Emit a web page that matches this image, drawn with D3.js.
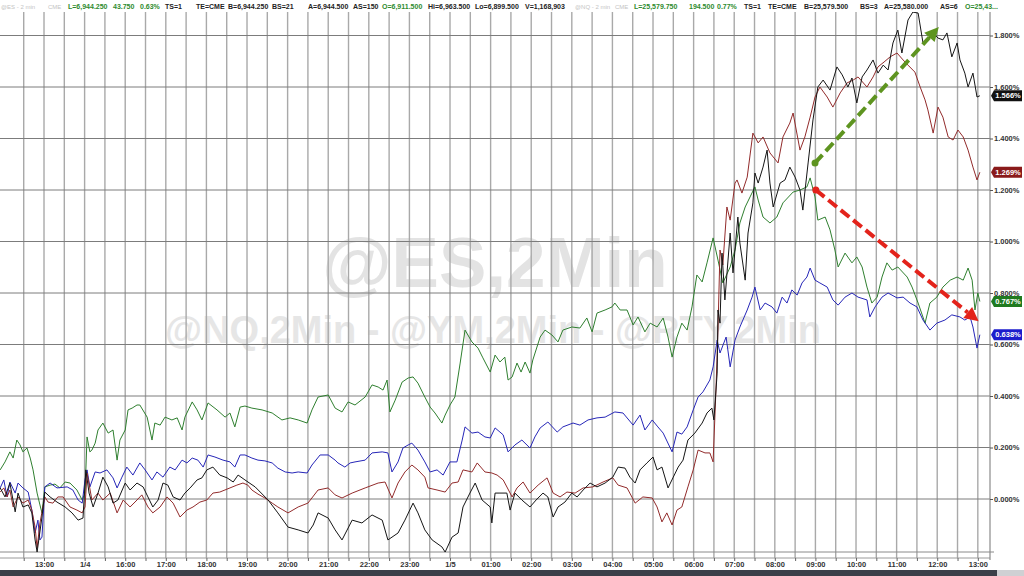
<!DOCTYPE html>
<html>
<head>
<meta charset="utf-8">
<script src="https://cdn.jsdelivr.net/npm/d3@7"></script>
<style>
  body { margin: 0; background: #ffffff; }
  svg { display: block; font-family: "Liberation Sans", Arial, sans-serif; }
</style>
</head>
<body>
<svg id="chart"></svg>
<script>
// hour labels, one per hour; t = 0 is the first 13:00 label
let hourLabels = ['13:00', '1/4', '16:00', '17:00', '18:00', '19:00', '20:00', '21:00',
  '22:00', '23:00', '1/5', '01:00', '02:00', '03:00', '04:00', '05:00', '06:00',
  '07:00', '08:00', '09:00', '10:00', '11:00', '12:00', '13:00'];

// right axis ticks (percent)
let yTicks = [0, 0.2, 0.4, 0.6, 0.8, 1.0, 1.2, 1.4, 1.6, 1.8];

// series are [hours since first 13:00 label, % change]
let nq = [[-1.08,0.113],[-0.96,0.144],[-0.84,0.183],[-0.76,0.159],[-0.67,0.229],[-0.59,0.210],[-0.52,0.183],[-0.42,0.198],[-0.34,0.159],[-0.27,0.113],[-0.17,0.023],[-0.10,-0.023],[-0.05,-0.054],[0.02,0.047],[0.15,0.054],[0.27,0.058],[0.39,0.043],[0.52,0.066],[0.64,0.062],[0.81,0.035],[0.94,-0.004],[1.01,0.023],[1.06,0.241],[1.13,0.183],[1.18,0.190],[1.26,0.217],[1.33,0.268],[1.45,0.295],[1.58,0.256],[1.70,0.268],[1.80,0.151],[1.87,0.229],[2.00,0.268],[2.07,0.346],[2.17,0.353],[2.29,0.365],[2.36,0.365],[2.54,0.318],[2.66,0.229],[2.73,0.295],[2.86,0.287],[2.98,0.318],[3.15,0.307],[3.28,0.315],[3.40,0.268],[3.47,0.318],[3.65,0.377],[3.77,0.346],[3.89,0.307],[4.04,0.373],[4.26,0.346],[4.46,0.318],[4.58,0.334],[4.70,0.280],[4.83,0.357],[4.95,0.361],[5.12,0.353],[5.37,0.346],[5.62,0.334],[5.86,0.307],[6.06,0.315],[6.26,0.307],[6.48,0.295],[6.60,0.346],[6.75,0.396],[7.00,0.404],[7.17,0.353],[7.34,0.338],[7.49,0.377],[7.66,0.365],[7.91,0.396],[8.08,0.443],[8.23,0.435],[8.35,0.423],[8.45,0.462],[8.52,0.338],[8.65,0.384],[8.82,0.454],[8.97,0.470],[9.09,0.474],[9.21,0.450],[9.38,0.396],[9.51,0.357],[9.63,0.334],[9.80,0.295],[9.88,0.326],[10.00,0.365],[10.12,0.396],[10.25,0.528],[10.37,0.656],[10.54,0.610],[10.69,0.586],[10.81,0.548],[10.99,0.493],[11.11,0.559],[11.23,0.532],[11.35,0.551],[11.43,0.462],[11.53,0.474],[11.65,0.528],[11.75,0.493],[11.85,0.532],[11.97,0.489],[12.04,0.540],[12.22,0.629],[12.34,0.656],[12.51,0.637],[12.66,0.610],[12.78,0.656],[13.00,0.668],[13.20,0.664],[13.37,0.703],[13.50,0.649],[13.62,0.722],[13.82,0.734],[13.99,0.746],[14.06,0.761],[14.19,0.734],[14.36,0.734],[14.51,0.676],[14.63,0.707],[14.80,0.649],[14.93,0.683],[15.10,0.668],[15.25,0.703],[15.37,0.629],[15.47,0.551],[15.59,0.629],[15.71,0.683],[15.84,0.656],[15.96,0.746],[16.08,0.870],[16.21,0.843],[16.33,0.917],[16.48,1.014],[16.60,0.928],[16.72,0.839],[16.90,0.901],[17.02,0.967],[17.14,1.072],[17.27,1.134],[17.39,1.173],[17.51,1.212],[17.59,1.161],[17.71,1.095],[17.88,1.072],[18.05,1.095],[18.20,1.150],[18.45,1.192],[18.62,1.200],[18.79,1.212],[18.87,1.247],[18.99,1.173],[19.06,1.083],[19.24,1.095],[19.36,1.045],[19.48,0.967],[19.56,0.901],[19.73,0.955],[19.90,0.917],[20.02,0.940],[20.15,0.901],[20.27,0.823],[20.39,0.761],[20.52,0.784],[20.64,0.862],[20.76,0.917],[20.89,0.889],[21.03,0.901],[21.26,0.862],[21.38,0.823],[21.53,0.761],[21.70,0.683],[21.82,0.761],[21.99,0.784],[22.14,0.823],[22.32,0.850],[22.49,0.862],[22.64,0.850],[22.76,0.897],[22.86,0.850],[22.93,0.734],[23.00,0.800],[23.05,0.767]];

let es = [[-1.08,0.043],[-0.99,0.074],[-0.91,0.008],[-0.84,0.066],[-0.71,0.023],[-0.64,0.062],[-0.52,0.043],[-0.39,0.027],[-0.30,-0.043],[-0.22,-0.132],[-0.15,-0.082],[-0.10,-0.159],[-0.05,-0.148],[0.02,0.047],[0.15,0.062],[0.32,0.043],[0.57,0.047],[0.71,0.035],[0.84,-0.004],[0.94,-0.016],[1.01,0.074],[1.06,0.113],[1.13,0.047],[1.26,0.105],[1.38,0.101],[1.55,0.113],[1.70,0.082],[1.80,0.043],[1.92,0.085],[2.04,0.124],[2.19,0.093],[2.36,0.140],[2.49,0.113],[2.66,0.074],[2.78,0.105],[2.93,0.085],[3.10,0.124],[3.23,0.113],[3.40,0.151],[3.52,0.140],[3.65,0.159],[3.79,0.151],[3.92,0.124],[4.04,0.171],[4.21,0.163],[4.41,0.151],[4.58,0.144],[4.70,0.124],[4.83,0.171],[4.95,0.171],[5.12,0.159],[5.27,0.151],[5.44,0.148],[5.62,0.140],[5.76,0.120],[5.94,0.105],[6.11,0.101],[6.26,0.105],[6.48,0.101],[6.60,0.132],[6.80,0.171],[7.00,0.171],[7.17,0.151],[7.24,0.140],[7.41,0.124],[7.54,0.140],[7.66,0.144],[7.91,0.151],[8.08,0.179],[8.33,0.183],[8.47,0.179],[8.57,0.105],[8.72,0.144],[8.84,0.198],[8.97,0.210],[9.06,0.217],[9.21,0.190],[9.38,0.144],[9.51,0.105],[9.68,0.113],[9.83,0.093],[10.00,0.144],[10.17,0.144],[10.30,0.229],[10.37,0.280],[10.54,0.256],[10.69,0.260],[10.86,0.241],[10.99,0.237],[11.11,0.276],[11.23,0.260],[11.31,0.249],[11.43,0.183],[11.60,0.210],[11.77,0.229],[11.97,0.198],[12.09,0.241],[12.22,0.276],[12.41,0.299],[12.64,0.260],[12.78,0.280],[13.03,0.295],[13.20,0.287],[13.40,0.307],[13.62,0.315],[13.82,0.318],[14.06,0.338],[14.26,0.334],[14.51,0.287],[14.68,0.326],[14.80,0.268],[14.98,0.307],[15.12,0.280],[15.25,0.256],[15.47,0.183],[15.59,0.260],[15.71,0.252],[15.84,0.280],[15.99,0.346],[16.11,0.396],[16.23,0.416],[16.40,0.462],[16.48,0.513],[16.58,0.617],[16.65,0.567],[16.80,0.629],[16.90,0.513],[17.02,0.617],[17.14,0.668],[17.32,0.734],[17.44,0.784],[17.51,0.823],[17.64,0.734],[17.76,0.761],[17.93,0.746],[18.05,0.722],[18.18,0.784],[18.30,0.761],[18.42,0.812],[18.55,0.792],[18.67,0.839],[18.79,0.862],[18.87,0.897],[18.99,0.850],[19.11,0.839],[19.29,0.823],[19.43,0.773],[19.56,0.753],[19.73,0.784],[19.90,0.800],[20.05,0.784],[20.27,0.773],[20.34,0.707],[20.47,0.746],[20.64,0.784],[20.79,0.800],[21.01,0.781],[21.16,0.784],[21.33,0.761],[21.50,0.746],[21.65,0.695],[21.82,0.656],[21.99,0.683],[22.19,0.695],[22.36,0.715],[22.56,0.707],[22.68,0.695],[22.81,0.707],[22.88,0.668],[22.98,0.586],[23.05,0.638]];

let ym = [[-1.08,0.027],[-0.99,0.043],[-0.91,0.008],[-0.84,0.035],[-0.76,-0.031],[-0.64,0.008],[-0.52,-0.016],[-0.39,-0.004],[-0.30,-0.043],[-0.22,-0.109],[-0.17,-0.190],[-0.10,-0.093],[0.02,0.008],[0.10,-0.012],[0.22,-0.016],[0.34,0.008],[0.47,0.008],[0.64,-0.031],[0.81,-0.043],[0.94,-0.054],[1.01,-0.031],[1.06,0.101],[1.18,-0.004],[1.33,0.023],[1.45,-0.004],[1.63,0.023],[1.80,-0.054],[1.95,-0.004],[2.12,-0.031],[2.29,-0.004],[2.41,0.016],[2.56,-0.031],[2.68,-0.054],[2.86,-0.031],[3.03,0.008],[3.18,-0.016],[3.35,-0.070],[3.52,-0.043],[3.67,-0.031],[3.84,-0.012],[4.01,-0.004],[4.16,0.023],[4.33,0.027],[4.58,0.043],[4.75,0.054],[4.90,0.062],[5.02,0.054],[5.12,0.035],[5.27,0.019],[5.44,0.004],[5.62,-0.016],[5.76,-0.031],[6.01,-0.054],[6.26,-0.031],[6.50,-0.016],[6.75,0.035],[7.00,0.043],[7.17,0.016],[7.34,0.004],[7.59,0.023],[7.91,0.043],[8.23,0.062],[8.40,0.066],[8.57,0.004],[8.72,0.062],[8.89,0.105],[9.06,0.132],[9.21,0.113],[9.38,0.085],[9.46,0.043],[9.68,0.035],[9.88,0.027],[10.05,0.062],[10.20,0.066],[10.32,0.113],[10.54,0.105],[10.67,0.140],[10.86,0.105],[11.03,0.101],[11.16,0.093],[11.31,0.074],[11.53,0.008],[11.65,0.043],[11.80,0.066],[11.97,0.023],[12.17,0.054],[12.39,0.082],[12.54,0.023],[12.71,0.008],[12.88,0.027],[13.08,0.023],[13.28,0.043],[13.52,0.047],[13.77,0.066],[14.01,0.082],[14.14,0.054],[14.36,0.043],[14.56,-0.016],[14.75,0.008],[14.98,0.004],[15.10,-0.031],[15.22,-0.089],[15.34,-0.054],[15.47,-0.101],[15.59,-0.043],[15.71,-0.031],[15.86,0.047],[15.99,0.113],[16.11,0.190],[16.28,0.179],[16.40,0.179],[16.48,0.144],[16.55,0.423],[16.60,0.656],[16.65,0.967],[16.72,0.909],[16.82,1.134],[16.90,1.083],[17.02,1.227],[17.07,1.239],[17.19,1.188],[17.32,1.250],[17.46,1.421],[17.59,1.383],[17.71,1.406],[17.88,1.344],[18.08,1.305],[18.20,1.406],[18.37,1.460],[18.45,1.499],[18.62,1.355],[18.74,1.406],[18.87,1.483],[18.99,1.561],[19.11,1.600],[19.29,1.561],[19.43,1.522],[19.61,1.577],[19.78,1.616],[19.93,1.627],[20.05,1.639],[20.27,1.600],[20.42,1.639],[20.54,1.678],[20.69,1.697],[20.84,1.717],[21.01,1.732],[21.16,1.705],[21.28,1.685],[21.45,1.658],[21.58,1.600],[21.70,1.550],[21.77,1.511],[21.90,1.421],[22.02,1.522],[22.14,1.483],[22.27,1.406],[22.39,1.394],[22.51,1.433],[22.64,1.406],[22.76,1.355],[22.88,1.289],[22.98,1.239],[23.05,1.269]];

let rty = [[-1.08,0.043],[-0.96,0.008],[-0.84,0.062],[-0.71,-0.050],[-0.64,0.023],[-0.52,-0.031],[-0.39,-0.023],[-0.30,-0.054],[-0.22,-0.159],[-0.17,-0.206],[-0.05,-0.070],[0.02,0.027],[0.15,0.008],[0.32,-0.012],[0.52,-0.031],[0.69,-0.054],[0.84,-0.082],[0.96,-0.074],[1.03,0.113],[1.11,0.023],[1.21,-0.031],[1.33,0.023],[1.45,0.085],[1.58,0.047],[1.70,-0.016],[1.82,-0.004],[2.00,0.062],[2.12,0.035],[2.29,0.062],[2.44,0.047],[2.56,0.008],[2.68,-0.031],[2.81,-0.004],[2.93,0.062],[3.05,0.054],[3.18,0.008],[3.35,-0.004],[3.47,0.023],[3.60,0.043],[3.77,0.074],[3.89,0.082],[4.01,0.113],[4.16,0.124],[4.33,0.093],[4.51,0.082],[4.66,0.066],[4.78,0.093],[4.95,0.074],[5.20,0.047],[5.52,-0.004],[5.76,-0.054],[6.01,-0.109],[6.26,-0.120],[6.50,-0.132],[6.63,-0.101],[6.75,-0.054],[7.00,-0.074],[7.17,-0.120],[7.34,-0.159],[7.59,-0.082],[7.83,-0.093],[8.08,-0.062],[8.33,-0.082],[8.47,-0.159],[8.72,-0.132],[8.89,-0.082],[9.09,-0.016],[9.21,-0.054],[9.38,-0.120],[9.56,-0.159],[9.80,-0.186],[9.88,-0.206],[10.05,-0.148],[10.20,-0.132],[10.32,-0.031],[10.49,0.023],[10.62,0.062],[10.79,-0.004],[10.99,-0.031],[11.03,-0.093],[11.11,0.023],[11.23,0.023],[11.40,0.023],[11.48,-0.043],[11.60,0.023],[11.77,-0.004],[11.97,-0.031],[12.12,-0.004],[12.29,0.023],[12.41,0.008],[12.54,-0.070],[12.66,-0.031],[12.83,-0.012],[13.00,0.023],[13.13,0.008],[13.28,0.035],[13.45,0.062],[13.62,0.047],[13.82,0.062],[14.01,0.085],[14.14,0.124],[14.31,0.120],[14.43,0.085],[14.56,0.062],[14.68,0.113],[14.85,0.140],[15.00,0.163],[15.10,0.113],[15.22,0.124],[15.37,0.043],[15.49,0.082],[15.62,0.124],[15.74,0.151],[15.86,0.229],[16.03,0.256],[16.21,0.295],[16.33,0.334],[16.45,0.353],[16.50,0.307],[16.58,0.489],[16.60,0.734],[16.65,0.683],[16.70,0.955],[16.77,0.773],[16.90,1.033],[16.97,0.878],[17.09,1.095],[17.14,0.994],[17.27,0.850],[17.34,1.033],[17.46,1.150],[17.51,1.266],[17.59,1.227],[17.71,1.289],[17.81,1.355],[17.88,1.227],[17.96,1.134],[18.13,1.227],[18.25,1.239],[18.37,1.289],[18.50,1.250],[18.62,1.200],[18.69,1.122],[18.82,1.305],[18.94,1.472],[19.06,1.600],[19.19,1.627],[19.36,1.588],[19.53,1.678],[19.66,1.647],[19.80,1.600],[19.90,1.635],[20.02,1.538],[20.15,1.639],[20.27,1.666],[20.42,1.705],[20.54,1.654],[20.67,1.685],[20.79,1.666],[20.91,1.771],[21.03,1.821],[21.13,1.732],[21.28,1.860],[21.40,1.891],[21.53,1.887],[21.65,1.771],[21.77,1.783],[21.90,1.810],[22.02,1.790],[22.14,1.783],[22.24,1.810],[22.36,1.717],[22.49,1.771],[22.56,1.705],[22.68,1.654],[22.76,1.600],[22.88,1.654],[22.98,1.561],[23.05,1.566]];

let seriesNames = ['@NQ', '@ES', '@YM', '@RTY'];
let seriesColors = ['#2f7f2f', '#2626b8', '#922b2b', '#151515'];
let tagColors = ['#1f7a1f', '#1c1ccc', '#8a1a1a', '#111111'];

// dashed annotation arrows: [t0, v0, t1, v1]
let arrows = [[18.99, 1.305, 22.04, 1.833], [19.01, 1.200, 23.02, 0.690]];
let arrowColors = ['#5e9420', '#e3231b'];

// header quote strip: [x, text, colour]
let headerItems = [
  [1, '@ES - 2 min', '#c4c4c4'], [48, 'CME', '#c4c4c4'],
  [68, 'L=6,944.250', '#2e8b2e'], [113, '43.750', '#2e8b2e'], [140, '0.63%', '#2e8b2e'],
  [165, 'TS=1', '#222'], [196, 'TE=CME', '#222'], [228, 'B=6,944.250', '#222'],
  [272, 'BS=21', '#222'], [308, 'A=6,944.500', '#222'], [353, 'AS=150', '#222'],
  [382, 'O=6,911.500', '#2e8b2e'], [428, 'Hi=6,963.500', '#222'], [475, 'Lo=6,899.500', '#222'],
  [525, 'V=1,168,903', '#222'], [575, '@NQ - 2 min', '#c4c4c4'], [615, 'CME', '#c4c4c4'],
  [634, 'L=25,579.750', '#2e8b2e'], [689, '194.500', '#2e8b2e'], [717, '0.77%', '#2e8b2e'],
  [744, 'TS=1', '#222'], [768, 'TE=CME', '#222'], [804, 'B=25,579.500', '#222'],
  [860, 'BS=3', '#222'], [884, 'A=25,580.000', '#222'], [940, 'AS=6', '#222'],
  [965, 'O=25,43...', '#2e8b2e']
];
let headerGrey = '#c4c4c4';

// configuration of svg/plot area
let config = { svg: {}, plot: {} };
config.svg.width = 1024;
config.svg.height = 576;
config.plot.right = 990;
config.plot.top = 12;
config.plot.bottom = 552;
config.plot.axis = 558;

let svg = d3.select('svg#chart');
svg.attr('width', config.svg.width);
svg.attr('height', config.svg.height);

// scales
let scale = {};
scale.x = d3.scaleLinear().domain([-1.084, 23.3]).range([0, config.plot.right]);
scale.y = d3.scaleLinear().domain([-0.2, 1.9]).range([550.5, 9.75]);

// watermark
svg.append('text')
  .attr('x', 495).attr('y', 287)
  .attr('text-anchor', 'middle')
  .style('font-size', '71px').style('font-weight', 'bold')
  .style('fill', '#e3e3e3')
  .text('@ES,2Min');
svg.append('text')
  .attr('x', 493).attr('y', 343)
  .attr('text-anchor', 'middle')
  .style('font-size', '38px').style('font-weight', 'bold')
  .style('fill', '#e6e6e6')
  .text('@NQ,2Min - @YM,2Min - @RTY,2Min');

// vertical grid every half hour
let grid = svg.append('g').attr('id', 'grid');
grid.selectAll('line.v')
  .data(d3.range(-0.5, 23.01, 0.5))
  .enter()
  .append('line')
  .attr('class', 'v')
  .attr('x1', d => scale.x(d)).attr('x2', d => scale.x(d))
  .attr('y1', config.plot.top).attr('y2', config.plot.axis)
  .style('stroke', '#a9a9a9').style('stroke-width', 1.4);

// horizontal grid
grid.selectAll('line.h')
  .data(yTicks)
  .enter()
  .append('line')
  .attr('class', 'h')
  .attr('x1', 0).attr('x2', config.plot.right)
  .attr('y1', d => scale.y(d)).attr('y2', d => scale.y(d))
  .style('stroke', '#7c7c7c').style('stroke-width', 1);

// plot frame
grid.append('line')
  .attr('x1', 0).attr('x2', config.plot.right + 4)
  .attr('y1', config.plot.bottom).attr('y2', config.plot.bottom)
  .style('stroke', '#8a8a8a');
grid.append('line')
  .attr('x1', 0).attr('x2', config.plot.right)
  .attr('y1', config.plot.axis).attr('y2', config.plot.axis)
  .style('stroke', '#9a9a9a');
grid.append('line')
  .attr('x1', config.plot.right).attr('x2', config.plot.right)
  .attr('y1', config.plot.top).attr('y2', config.plot.axis + 2)
  .style('stroke', '#8a8a8a').style('stroke-width', 1.2);

// series lines
let line = d3.line()
  .x(d => scale.x(d[0]))
  .y(d => scale.y(d[1]));

let allSeries = [nq, es, ym, rty];
let lines = svg.append('g').attr('id', 'lines');
lines.selectAll('path')
  .data(allSeries)
  .enter()
  .append('path')
  .attr('d', line)
  .attr('id', (d, i) => seriesNames[i].replace('@', 's-'))
  .style('fill', 'none')
  .style('stroke', (d, i) => seriesColors[i])
  .style('stroke-width', 1)
  .style('stroke-linejoin', 'round');

// dashed arrows
let ann = svg.append('g').attr('id', 'arrows');
arrows.forEach(function(a, i) {
  let x0 = scale.x(a[0]), y0 = scale.y(a[1]);
  let x1 = scale.x(a[2]), y1 = scale.y(a[3]);
  let len = Math.hypot(x1 - x0, y1 - y0);
  let ux = (x1 - x0) / len, uy = (y1 - y0) / len;
  let head = 14, half = 7;
  let bx = x1 - ux * head, by = y1 - uy * head;

  ann.append('line')
    .attr('x1', x0).attr('y1', y0)
    .attr('x2', bx).attr('y2', by)
    .style('stroke', arrowColors[i])
    .style('stroke-width', 4)
    .style('stroke-dasharray', '11,5');

  ann.append('circle')
    .attr('cx', x0).attr('cy', y0).attr('r', 3.5)
    .style('fill', arrowColors[i]);

  ann.append('polygon')
    .attr('points', [
      [x1, y1],
      [bx - uy * half, by + ux * half],
      [bx + uy * half, by - ux * half]
    ].map(p => p.join(',')).join(' '))
    .style('fill', arrowColors[i]);
});

// right axis
let axisY = d3.axisRight(scale.y)
  .tickValues(yTicks)
  .tickSize(3)
  .tickPadding(1)
  .tickFormat(d => d.toFixed(3) + '%');

let gy = svg.append('g')
  .attr('id', 'y-axis')
  .attr('transform', translate(config.plot.right, 0))
  .call(axisY);
gy.select('.domain').remove();
gy.selectAll('line').style('stroke', '#555');
gy.selectAll('text')
  .style('font-size', '7.5px')
  .style('font-weight', 'bold')
  .style('fill', '#333')
  .style('font-family', '"Liberation Sans", Arial, sans-serif');

// bottom axis: half-hour ticks, hour labels
let axisMinor = d3.axisBottom(scale.x)
  .tickValues(d3.range(-0.5, 23.01, 0.5))
  .tickSize(3)
  .tickFormat('');
let gm = svg.append('g')
  .attr('transform', translate(0, config.plot.axis))
  .call(axisMinor);
gm.select('.domain').remove();
gm.selectAll('line').style('stroke', '#666');

let axisX = d3.axisBottom(scale.x)
  .tickValues(d3.range(0, 24))
  .tickSize(0)
  .tickPadding(4)
  .tickFormat((d, i) => hourLabels[i]);
let gx = svg.append('g')
  .attr('id', 'x-axis')
  .attr('transform', translate(0, config.plot.axis))
  .call(axisX);
gx.select('.domain').remove();
gx.selectAll('text')
  .style('font-size', '7.5px')
  .style('font-weight', 'bold')
  .style('fill', '#333')
  .style('font-family', '"Liberation Sans", Arial, sans-serif');

// last value tags
let tags = svg.append('g').attr('id', 'tags');
allSeries.forEach(function(s, i) {
  let v = s[s.length - 1][1];
  let y = scale.y(v);
  let x = config.plot.right + 1;
  tags.append('path')
    .attr('d', 'M' + x + ',' + y + 'L' + (x + 3) + ',' + (y - 5.5) + 'H' + (x + 31) +
      'V' + (y + 5.5) + 'H' + (x + 3) + 'Z')
    .style('fill', tagColors[i]);
  tags.append('text')
    .attr('x', x + 17).attr('y', y + 2.7)
    .attr('text-anchor', 'middle')
    .style('font-size', '7.5px')
    .style('font-weight', 'bold')
    .style('fill', '#fff')
    .text(v.toFixed(3) + '%');
});

// header strip
let header = svg.append('g').attr('id', 'header');
header.append('rect')
  .attr('x', 0).attr('y', 0)
  .attr('width', config.svg.width).attr('height', config.plot.top)
  .style('fill', '#fff');
header.selectAll('text')
  .data(headerItems)
  .enter()
  .append('text')
  .attr('x', d => d[0]).attr('y', 9)
  .style('font-size', d => d[2] === headerGrey ? '6px' : '7px')
  .style('font-weight', d => d[2] === headerGrey ? 'normal' : 'bold')
  .style('fill', d => d[2])
  .text(d => d[1]);

// bottom status bar
svg.append('rect')
  .attr('x', 0).attr('y', 570)
  .attr('width', 997).attr('height', 6)
  .style('fill', '#3b3f48');
svg.append('rect')
  .attr('x', 997).attr('y', 570)
  .attr('width', 27).attr('height', 6)
  .style('fill', '#cfd0d3');

// helper method to make translating easier
function translate(x, y) {
  return 'translate(' + x + ',' + y + ')';
}
</script>
</body>
</html>
